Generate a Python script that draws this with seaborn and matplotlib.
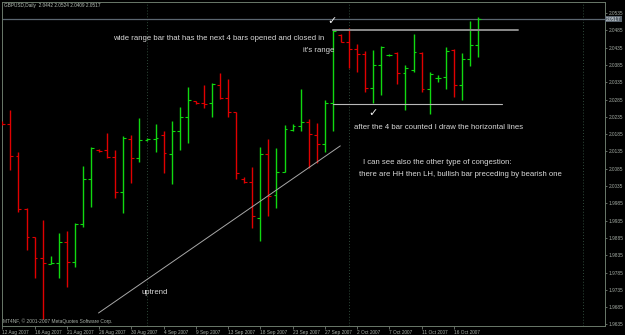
import matplotlib
matplotlib.use("Agg")
import matplotlib.pyplot as plt
import matplotlib.transforms as mtransforms
import seaborn as sns
import pandas as pd

# ---- data (GBPUSD daily) ----
opens = [2.0220, 2.0214, 2.0122, 1.9968, 1.9888, 1.9827, 1.9810, 1.9812, 1.9873, 1.9815,
         1.9925, 2.0055, 2.0139, 2.0139, 2.0119, 2.0018, 2.0171, 2.0116, 2.0168, 2.0171,
         2.0182, 2.0128, 2.0194, 2.0234, 2.0281, 2.0275, 2.0275, 2.0327, 2.0289, 2.0249,
         2.0055, 2.0047, 1.9943, 2.0128, 2.0009, 2.0075, 2.0197, 2.0208, 2.0220, 2.0182,
         2.0156, 2.0275, 2.0471, 2.0451, 2.0431, 2.0417, 2.0318, 2.0385, 2.0414, 2.0419,
         2.0362, 2.0370, 2.0419, 2.0315, 2.0347, 2.0350, 2.0428, 2.0327, 2.0402, 2.0442]
highs = [2.0223, 2.0255, 2.0133, 1.9971, 1.9888, 1.9937, 1.9833, 1.9899, 1.9905, 1.9928,
         2.0093, 2.0148, 2.0142, 2.0188, 2.0139, 2.0180, 2.0182, 2.0232, 2.0174, 2.0214,
         2.0194, 2.0223, 2.0263, 2.0321, 2.0281, 2.0327, 2.0333, 2.0362, 2.0344, 2.0249,
         2.0061, 2.0090, 2.0148, 2.0171, 2.0145, 2.0211, 2.0214, 2.0315, 2.0229, 2.0217,
         2.0284, 2.0486, 2.0474, 2.0492, 2.0445, 2.0425, 2.0428, 2.0440, 2.0417, 2.0422,
         2.0385, 2.0474, 2.0422, 2.0365, 2.0356, 2.0437, 2.0431, 2.0419, 2.0512, 2.0524]
lows = [2.0211, 2.0081, 1.9960, 1.9850, 1.9769, 1.9651, 1.9810, 1.9769, 1.9743, 1.9801,
        1.9917, 1.9974, 2.0133, 2.0116, 2.0000, 1.9957, 2.0044, 2.0104, 2.0165, 2.0133,
        2.0073, 2.0041, 2.0139, 2.0159, 2.0272, 2.0260, 2.0234, 2.0286, 2.0234, 2.0055,
        2.0044, 1.9914, 1.9876, 1.9948, 1.9971, 2.0075, 2.0194, 2.0194, 2.0087, 2.0102,
        2.0133, 2.0194, 2.0451, 2.0376, 2.0365, 2.0307, 2.0275, 2.0298, 2.0411, 2.0330,
        2.0255, 2.0365, 2.0307, 2.0243, 2.0336, 2.0315, 2.0292, 2.0284, 2.0382, 2.0409]
closes = [2.0214, 2.0122, 1.9968, 1.9888, 1.9827, 1.9812, 1.9812, 1.9873, 1.9815, 1.9925,
          2.0055, 2.0145, 2.0136, 2.0119, 2.0018, 2.0174, 2.0116, 2.0168, 2.0171, 2.0174,
          2.0130, 2.0194, 2.0234, 2.0284, 2.0275, 2.0272, 2.0330, 2.0289, 2.0249, 2.0073,
          2.0047, 1.9948, 2.0128, 2.0006, 2.0075, 2.0200, 2.0208, 2.0220, 2.0185, 2.0156,
          2.0275, 2.0483, 2.0451, 2.0431, 2.0417, 2.0318, 2.0385, 2.0437, 2.0415, 2.0362,
          2.0376, 2.0422, 2.0315, 2.0359, 2.0348, 2.0425, 2.0327, 2.0402, 2.0443, 2.0517]

date_label_idx = [0, 4, 8, 12, 16, 20, 24, 28, 32, 36, 40, 44, 48, 52, 56]
date_labels = ["12 Aug 2007", "16 Aug 2007", "21 Aug 2007", "26 Aug 2007", "30 Aug 2007",
               "4 Sep 2007", "9 Sep 2007", "13 Sep 2007", "18 Sep 2007", "23 Sep 2007",
               "27 Sep 2007", "2 Oct 2007", "7 Oct 2007", "11 Oct 2007", "16 Oct 2007"]
price_ticks = [2.0535, 2.0485, 2.0435, 2.0385, 2.0335, 2.0285, 2.0235, 2.0185, 2.0135,
               2.0085, 2.0035, 1.9985, 1.9935, 1.9885, 1.9835, 1.9785, 1.9735, 1.9685, 1.9635]
separator_idx = [18, 43, 72]

trend_x = [11.93, 41.92]
trend_y = [1.9668, 2.0151]
range_high_x = [41.0, 64.0]
range_high_y = [2.0486, 2.0486]
range_low_x = [41.0, 62.0]
range_low_y = [2.0272, 2.0272]

bid_price = 2.0517
title_text = "GBPUSD,Daily  2.0442 2.0524 2.0409 2.0517"

# ---- figure ----
sns.set_style("dark", {"axes.facecolor": "black", "figure.facecolor": "black"})
plt.rcParams['font.family'] = ['Liberation Sans', 'DejaVu Sans']

W, H = 625, 335
fig = plt.figure(figsize=(W / 100, H / 100), dpi=100, facecolor="black")
ax = fig.add_axes([2 / W, 1 - 326 / H, 603 / W, 324 / H])
ax.set_facecolor("black")
ax.set_xlim(-0.04, 74.75)
ax.set_ylim(1.96304, 2.05668)

df = pd.DataFrame({"i": range(len(opens)), "open": opens, "high": highs,
                   "low": lows, "close": closes})
df["color"] = ["#e00000" if c < o else "#10d810" for o, c in zip(opens, closes)]

tick_len = 0.36
ax.vlines(df["i"], df["low"], df["high"], colors=df["color"], linewidth=1.0, zorder=3)
ax.hlines(df["open"], df["i"] - tick_len, df["i"], colors=df["color"], linewidth=0.8, zorder=3)
ax.hlines(df["close"], df["i"], df["i"] + tick_len, colors=df["color"], linewidth=0.8, zorder=3)

# period separators
for s in separator_idx:
    ax.axvline(s, color="#2f4a3a", linestyle=(0, (1, 2)), linewidth=0.7, zorder=1)

# bid line
ax.axhline(bid_price, color="#5b6670", linewidth=0.9, zorder=2)

# user drawn lines
sns.lineplot(x=trend_x, y=trend_y, ax=ax, color="#a8a8a8", linewidth=0.7, zorder=4)
sns.lineplot(x=range_high_x, y=range_high_y, ax=ax, color="#8a8a8a", linewidth=1.4, zorder=4)
sns.lineplot(x=range_low_x, y=range_low_y, ax=ax, color="#b8b8b8", linewidth=0.8, zorder=4)

# axes styling
for side in ["left", "right", "top", "bottom"]:
    ax.spines[side].set_visible(True)
    ax.spines[side].set_color("#6a786a")
    ax.spines[side].set_linewidth(0.7)

ax.yaxis.tick_right()
ax.set_yticks(price_ticks)
ax.set_yticklabels([f"{p:.4f}" for p in price_ticks])
ax.tick_params(axis="y", which="both", right=True, left=False, length=1.5, width=0.5,
               color="#8a948a", labelsize=3.4, labelcolor="#a8b0a8", pad=1.0)
ax.set_xticks(date_label_idx)
ax.set_xticklabels(date_labels)
for lab in ax.get_xticklabels():
    lab.set_horizontalalignment("left")
ax.tick_params(axis="x", which="both", bottom=True, length=2, width=0.5,
               color="#8a948a", labelsize=3.4, labelcolor="#a8b0a8", pad=1.0)
ax.grid(False)
ax.set_xlabel("")
ax.set_ylabel("")

# price box on axis
trans = mtransforms.blended_transform_factory(ax.transAxes, ax.transData)
ax.text(1.002, bid_price, f"{bid_price:.4f}", transform=trans, fontsize=3.4,
        color="#e0e6ea", va="center", ha="left", clip_on=False,
        bbox=dict(boxstyle="square,pad=0.15", facecolor="#5b6670", edgecolor="none"))

# texts
def ftext(x, y, s, size=5.6, color="#d8d8d8", **kw):
    fig.text(x / W, 1 - y / H, s, fontsize=size, color=color, va="center", ha="left", **kw)

ftext(4, 5, title_text, size=3.4, color="#b8c0b8")
ftext(113, 38, "wide range bar that has the next 4 bars opened and closed in")
ftext(303, 50, "it's range")
ftext(354, 128, "after the 4 bar counted I draw the horizontal lines")
ftext(363, 163, "I can see also the other type of congestion:")
ftext(359, 174, "there are HH then LH, bullish bar preceding by bearish one")
ftext(142, 292, "uptrend")
ftext(3, 321, "MT4NF, \u00a9 2001-2007 MetaQuotes Software Corp.", size=3.5, color="#a8b0a8")
fig.text(327 / W, 1 - 21 / H, "\u2713", fontsize=8, color="#f0f0f0", va="center",
         ha="left", family="DejaVu Sans")
fig.text(368 / W, 1 - 113 / H, "\u2713", fontsize=8, color="#f0f0f0", va="center",
         ha="left", family="DejaVu Sans")

fig.savefig("out.png", dpi=100, facecolor="black")
